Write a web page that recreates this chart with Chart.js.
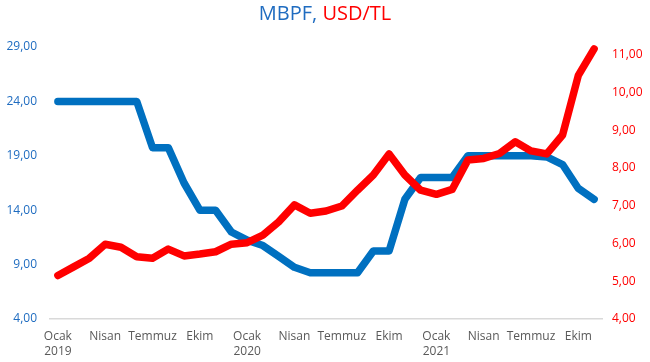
<!DOCTYPE html>
<html>
<head>
<meta charset="utf-8">
<script src="https://cdn.jsdelivr.net/npm/chart.js@4"></script>
<style>
  body { margin: 0; background: #fff; }
  #wrap { position: relative; width: 650px; height: 362px; }
  #title {
    position: absolute; left: 0; top: 0; width: 650px; text-align: center;
    font-family: 'Open Sans', sans-serif; font-size: 20px; line-height: 26px;
  }
</style>
</head>
<body>
<div id="wrap">
  <div id="title"><span style="color:#1F6CC0">MBPF,</span> <span style="color:#FF0000">USD/TL</span></div>
  <canvas id="chart" width="650" height="362"></canvas>
</div>
<script>
// months Jan 2019 - Nov 2021
const monthNames = ['Ocak', 'Şubat', 'Mart', 'Nisan', 'Mayıs', 'Haziran', 'Temmuz', 'Ağustos', 'Eylül', 'Ekim', 'Kasım', 'Aralık'];
const years = ['2019', '2020', '2021'];
const months = [];
years.forEach(y => monthNames.forEach(m => months.push(m + ' ' + y)));
months.pop(); // last point is Kasım 2021

// policy rate (left axis)
const mbpf = [24, 24, 24, 24, 24, 24, 19.75, 19.75, 16.5, 14, 14, 12,
  11.25, 10.75, 9.75, 8.75, 8.25, 8.25, 8.25, 8.25, 10.25, 10.25, 15, 17,
  17, 17, 19, 19, 19, 19, 19, 18.9, 18.2, 16, 15];

// USD/TL (right axis)
const usdtl = [5.15, 5.38, 5.61, 5.98, 5.9, 5.65, 5.61, 5.85, 5.67, 5.72, 5.78, 5.98,
  6.02, 6.22, 6.57, 7.02, 6.8, 6.86, 6.99, 7.41, 7.81, 8.37, 7.81, 7.41,
  7.3, 7.43, 8.21, 8.25, 8.38, 8.69, 8.45, 8.37, 8.87, 10.45, 11.15];

const fmt = v => Number(v).toFixed(2).replace('.', ',');
const font = { family: "'Open Sans', sans-serif", size: 12 };

new Chart(document.getElementById('chart'), {
  type: 'line',
  data: {
    labels: months,
    datasets: [{
      label: 'MBPF',
      data: mbpf,
      yAxisID: 'y',
      borderColor: '#0070C0',
      borderWidth: 7.5,
      pointRadius: 0,
      borderJoinStyle: 'round',
      borderCapStyle: 'round',
      clip: false,
      order: 2
    }, {
      label: 'USD/TL',
      data: usdtl,
      yAxisID: 'y1',
      borderColor: '#FF0000',
      borderWidth: 7.5,
      pointRadius: 0,
      borderJoinStyle: 'round',
      borderCapStyle: 'round',
      clip: false,
      order: 1
    }]
  },
  options: {
    responsive: false,
    animation: false,
    layout: { padding: { top: 47, left: 0, right: 0, bottom: 0 } },
    plugins: { legend: { display: false }, tooltip: { enabled: false } },
    scales: {
      x: {
        offset: true,
        grid: { display: false, drawTicks: false },
        border: { display: true, color: '#D9D9D9', width: 1.5 },
        afterFit: s => { s.height = 43; },
        ticks: {
          autoSkip: false,
          maxRotation: 0,
          padding: 10,
          color: '#595959',
          font: { ...font, lineHeight: 1.25 },
          callback: function (v, i) {
            if (i % 3 !== 0) return '';
            const parts = months[i].split(' ');
            return parts[0] === 'Ocak' ? [parts[0], parts[1]] : parts[0];
          }
        }
      },
      y: {
        position: 'left',
        min: 4,
        max: 29,
        grid: { display: false, drawTicks: false },
        border: { display: false },
        afterFit: s => { s.width = 50; },
        ticks: { stepSize: 5, padding: 13, color: '#1F6CC0', font: font, callback: fmt }
      },
      y1: {
        position: 'right',
        min: 4,
        max: 11.2,
        grid: { display: false, drawTicks: false },
        border: { display: false },
        afterFit: s => { s.width = 48; },
        ticks: { stepSize: 1, includeBounds: false, padding: 10, color: '#FF0000', font: font, callback: fmt }
      }
    }
  }
});
</script>
</body>
</html>
